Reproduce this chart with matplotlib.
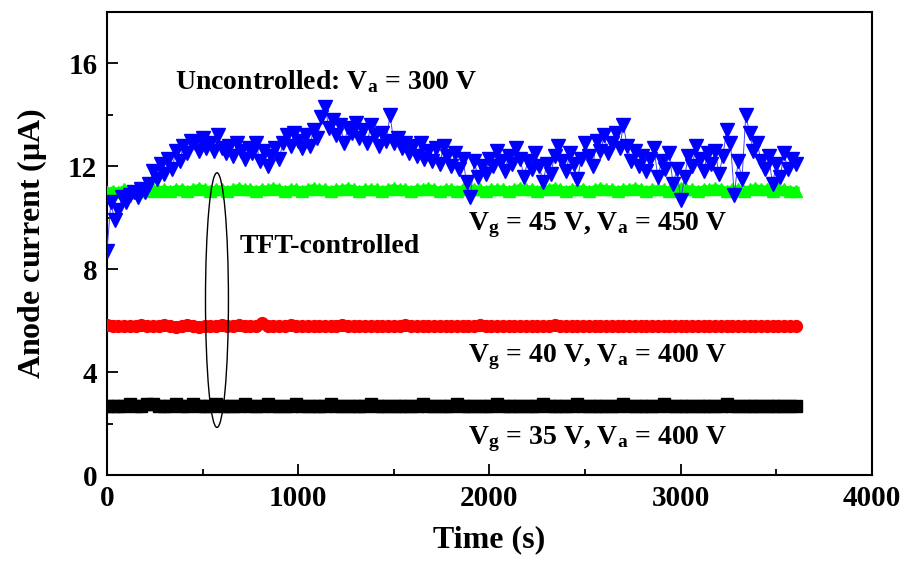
import numpy as np
import matplotlib
matplotlib.use('Agg')
from matplotlib import pyplot as plt
from matplotlib.patches import Ellipse
from matplotlib.ticker import MultipleLocator

plt.rcParams['font.family'] = 'Liberation Serif'
plt.rcParams['font.weight'] = 'bold'
plt.rcParams['axes.labelweight'] = 'bold'
plt.rcParams['mathtext.fontset'] = 'custom'
plt.rcParams['mathtext.rm'] = 'Liberation Serif:bold'
plt.rcParams['mathtext.bf'] = 'Liberation Serif:bold'
plt.rcParams['mathtext.it'] = 'Liberation Serif:bold'

# uncontrolled, Va = 300 V (one reading every 20 s)
BLUE_STEP = 20
blue = [
    8.7, 10.6, 9.9, 10.3, 10.8, 10.6, 10.9, 11.0, 10.8, 11.1,
    11.0, 11.3, 11.8, 11.5, 12.1, 11.7, 12.3, 11.9, 12.6, 12.2,
    12.8, 12.5, 13.0, 12.9, 12.6, 13.1, 12.7, 12.9, 12.6, 13.2,
    12.7, 12.5, 12.8, 12.4, 12.9, 12.6, 12.3, 12.7, 12.5, 12.9,
    12.2, 12.6, 12.0, 12.4, 12.7, 12.3, 12.9, 13.2, 12.8, 13.3,
    13.0, 12.7, 13.2, 12.8, 13.4, 13.1, 13.9, 14.3, 13.5, 13.8,
    13.2, 13.6, 12.9, 13.5, 13.3, 13.7, 13.1, 13.4, 12.9, 13.6,
    13.2, 12.8, 13.3, 13.0, 14.0, 12.9, 13.1, 12.7, 12.9, 12.5,
    12.8, 12.4, 12.9, 12.3, 12.6, 12.2, 12.7, 12.1, 12.8, 12.4,
    12.0, 12.5, 11.9, 12.3, 11.4, 10.8, 12.2, 11.6, 12.0, 11.7,
    12.3, 12.0, 12.6, 12.2, 11.8, 12.4, 12.1, 12.7, 12.3, 11.6,
    12.2, 11.9, 12.5, 12.0, 11.4, 12.1, 11.7, 12.4, 12.8, 12.2,
    11.8, 12.5, 12.1, 11.5, 12.3, 12.9, 12.4, 12.0, 13.0, 12.6,
    13.2, 12.5, 12.9, 13.3, 12.7, 13.6, 12.8, 12.2, 12.6, 12.0,
    12.4, 11.8, 12.3, 12.7, 11.6, 12.2, 11.9, 12.5, 11.3, 11.9,
    10.7, 11.6, 12.4, 12.0, 12.8, 12.3, 11.8, 12.5, 12.1, 12.6,
    11.7, 12.4, 13.4, 12.9, 10.9, 12.2, 11.5, 14.0, 13.3, 12.6,
    12.9, 12.2, 11.9, 12.4, 11.3, 12.1, 11.6, 12.5, 11.9, 12.3,
    12.1,
]

# TFT-controlled series (one reading every 30 s)
FLAT_STEP = 30
green = [
    11.0, 11.05, 11.0, 11.1, 11.05, 11.0, 11.1, 11.05, 11.1, 11.05,
    11.1, 11.05, 11.1, 11.1, 11.05, 11.1, 11.15, 11.1, 11.05, 11.1,
    11.1, 11.05, 11.1, 11.15, 11.1, 11.1, 11.05, 11.1, 11.1, 11.15,
    11.1, 11.05, 11.1, 11.1, 11.05, 11.1, 11.15, 11.1, 11.1, 11.05,
    11.1, 11.1, 11.15, 11.1, 11.05, 11.1, 11.1, 11.1, 11.05, 11.1,
    11.15, 11.1, 11.1, 11.05, 11.1, 11.1, 11.15, 11.1, 11.05, 11.1,
    11.1, 11.05, 11.1, 11.15, 11.1, 11.1, 11.05, 11.1, 11.1, 11.1,
    11.05, 11.1, 11.15, 11.1, 11.1, 11.05, 11.1, 11.1, 11.15, 11.1,
    11.05, 11.1, 11.1, 11.1, 11.05, 11.1, 11.15, 11.1, 11.1, 11.05,
    11.1, 11.1, 11.15, 11.1, 11.05, 11.1, 11.1, 11.1, 11.05, 11.1,
    11.15, 11.1, 11.1, 11.05, 11.1, 11.1, 11.15, 11.1, 11.05, 11.1,
    11.1, 11.05, 11.1, 11.15, 11.1, 11.1, 11.05, 11.1, 11.1, 11.05,
    11.05,
]
red = [
    5.85, 5.8, 5.8, 5.8, 5.8, 5.8, 5.85, 5.8, 5.8, 5.8,
    5.85, 5.8, 5.75, 5.8, 5.85, 5.8, 5.75, 5.8, 5.8, 5.8,
    5.85, 5.8, 5.8, 5.85, 5.8, 5.8, 5.8, 5.9, 5.8, 5.8,
    5.8, 5.8, 5.85, 5.8, 5.8, 5.8, 5.8, 5.8, 5.8, 5.8,
    5.8, 5.85, 5.8, 5.8, 5.8, 5.8, 5.8, 5.8, 5.8, 5.8,
    5.8, 5.8, 5.85, 5.8, 5.8, 5.8, 5.8, 5.8, 5.8, 5.8,
    5.8, 5.8, 5.8, 5.8, 5.8, 5.85, 5.8, 5.8, 5.8, 5.8,
    5.8, 5.8, 5.8, 5.8, 5.8, 5.8, 5.8, 5.8, 5.85, 5.8,
    5.8, 5.8, 5.8, 5.8, 5.8, 5.8, 5.8, 5.8, 5.8, 5.8,
    5.8, 5.8, 5.8, 5.8, 5.8, 5.8, 5.8, 5.8, 5.8, 5.8,
    5.8, 5.8, 5.8, 5.8, 5.8, 5.8, 5.8, 5.8, 5.8, 5.8,
    5.8, 5.8, 5.8, 5.8, 5.8, 5.8, 5.8, 5.8, 5.8, 5.8,
    5.8,
]
black = [
    2.7, 2.7, 2.7, 2.7, 2.75, 2.7, 2.7, 2.75, 2.75, 2.7,
    2.7, 2.7, 2.75, 2.7, 2.7, 2.75, 2.7, 2.7, 2.7, 2.75,
    2.7, 2.7, 2.7, 2.7, 2.75, 2.7, 2.7, 2.7, 2.75, 2.7,
    2.7, 2.7, 2.7, 2.75, 2.7, 2.7, 2.7, 2.7, 2.7, 2.75,
    2.7, 2.7, 2.7, 2.7, 2.7, 2.7, 2.75, 2.7, 2.7, 2.7,
    2.7, 2.7, 2.7, 2.7, 2.7, 2.75, 2.7, 2.7, 2.7, 2.7,
    2.7, 2.75, 2.7, 2.7, 2.7, 2.7, 2.7, 2.7, 2.75, 2.7,
    2.7, 2.7, 2.7, 2.7, 2.7, 2.7, 2.75, 2.7, 2.7, 2.7,
    2.7, 2.7, 2.75, 2.7, 2.7, 2.7, 2.7, 2.7, 2.7, 2.7,
    2.75, 2.7, 2.7, 2.7, 2.7, 2.7, 2.7, 2.75, 2.7, 2.7,
    2.7, 2.7, 2.7, 2.7, 2.7, 2.7, 2.7, 2.7, 2.75, 2.7,
    2.7, 2.7, 2.7, 2.7, 2.7, 2.7, 2.7, 2.7, 2.7, 2.7,
    2.7,
]

TEXT_SIZE = 20


def main():
    fig = plt.figure(figsize=(9.09, 5.78), dpi=100)
    ax = fig.add_axes([0.1177, 0.1782, 0.8416, 0.801])

    t_flat = np.arange(len(green)) * FLAT_STEP
    t_blue = np.arange(len(blue)) * BLUE_STEP

    ax.plot(t_flat, black, ls='-', lw=6, marker='s', ms=8.5, color='black', zorder=3)
    ax.plot(t_flat, red, ls='-', lw=6, marker='o', ms=8.5, color='red', zorder=3)
    ax.plot(t_flat, green, ls='-', lw=6, marker='^', ms=9, color='#00ff00', zorder=3)
    ax.plot(t_blue, blue, '-', lw=0.7, color='#4444ff', zorder=4)
    ax.plot(t_blue, blue, ls='none', marker='v', ms=10.5, color='#0000ff', zorder=4)

    ax.add_patch(Ellipse((575, 6.8), 120, 9.9, fill=False, lw=1.0,
                         edgecolor='black', zorder=5))

    ax.text(355, 15.3, r'Uncontrolled: V$_\mathrm{a}$ = 300 V',
            fontsize=TEXT_SIZE, va='center')
    ax.text(695, 8.9, 'TFT-controlled', fontsize=TEXT_SIZE, va='center')
    ax.text(1888, 9.7, r'V$_\mathrm{g}$ = 45 V, V$_\mathrm{a}$ = 450 V',
            fontsize=TEXT_SIZE, va='center')
    ax.text(1888, 4.6, r'V$_\mathrm{g}$ = 40 V, V$_\mathrm{a}$ = 400 V',
            fontsize=TEXT_SIZE, va='center')
    ax.text(1888, 1.4, r'V$_\mathrm{g}$ = 35 V, V$_\mathrm{a}$ = 400 V',
            fontsize=TEXT_SIZE, va='center')

    ax.set_xlim(0, 4000)
    ax.set_ylim(0, 18)
    ax.xaxis.set_major_locator(MultipleLocator(1000))
    ax.xaxis.set_minor_locator(MultipleLocator(500))
    ax.yaxis.set_major_locator(MultipleLocator(4))
    ax.yaxis.set_minor_locator(MultipleLocator(2))
    ax.tick_params(which='both', direction='in', width=1.3, labelsize=21, pad=7)
    ax.tick_params(which='major', length=8)
    ax.tick_params(which='minor', length=4)
    for side in ax.spines.values():
        side.set_linewidth(1.5)

    ax.set_xlabel('Time (s)', fontsize=23, labelpad=10)
    ax.set_ylabel(r'Anode current ($\mathrm{\mu}$A)', fontsize=23, labelpad=14)

    fig.savefig('out.png', dpi=100)


if __name__ == "__main__":
    main()
